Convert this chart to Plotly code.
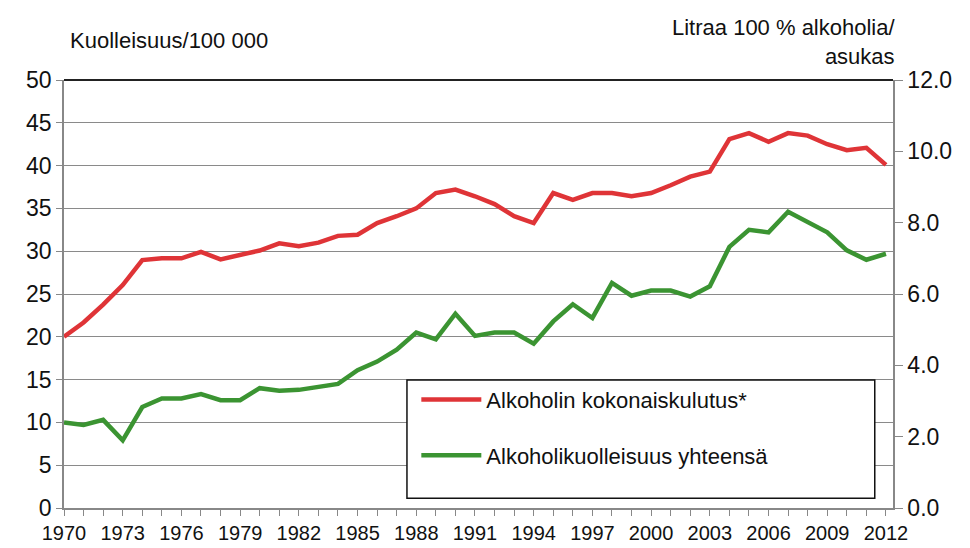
import plotly.graph_objects as go

years = list(range(1970, 2013))

# Alkoholin kokonaiskulutus, litraa 100 % alkoholia / asukas (right axis)
consumption = [4.8, 5.2, 5.7, 6.25, 6.95, 7.0, 7.0, 7.18, 6.97, 7.09,
               7.22, 7.42, 7.34, 7.44, 7.63, 7.66, 7.99, 8.18, 8.4, 8.83,
               8.93, 8.74, 8.52, 8.18, 7.99, 8.83, 8.64, 8.83, 8.83, 8.74,
               8.83, 9.05, 9.29, 9.43, 10.34, 10.51, 10.27, 10.51, 10.44, 10.2,
               10.03, 10.1, 9.62]

# Alkoholikuolleisuus yhteensä, /100 000 (left axis)
mortality = [10.0, 9.7, 10.3, 7.9, 11.8, 12.8, 12.8, 13.3, 12.6, 12.6,
             14.0, 13.7, 13.8, 14.1, 14.5, 16.1, 17.1, 18.5, 20.5, 19.7,
             22.7, 20.1, 20.5, 20.5, 19.2, 21.8, 23.8, 22.2, 26.3, 24.8,
             25.4, 25.4, 24.7, 25.9, 30.5, 32.5, 32.2, 34.6, 33.4, 32.2,
             30.1, 29.0, 29.7]

x_tick_years = list(range(1970, 2013, 3))
left_ticks = list(range(0, 51, 5))
right_ticks = [0, 2, 4, 6, 8, 10, 12]

name_red = "Alkoholin kokonaiskulutus*"
name_green = "Alkoholikuolleisuus yhteensä"

RED = "#DF3437"
GREEN = "#3B9432"
FONT = "Liberation Sans, Arial, sans-serif"
TXT = "#111111"

fig = go.Figure()
fig.add_trace(go.Scatter(x=years, y=consumption, name=name_red, yaxis="y2",
                         mode="lines", line=dict(color=RED, width=4.5),
                         legendgroup="a"))
fig.add_trace(go.Scatter(x=years, y=mortality, name=name_green, yaxis="y",
                         mode="lines", line=dict(color=GREEN, width=4.5),
                         legendgroup="b"))

fig.update_layout(
    width=970, height=548,
    margin=dict(l=64, r=77, t=80, b=40),
    paper_bgcolor="white", plot_bgcolor="white",
    font=dict(family=FONT, color=TXT),
    showlegend=True,
    legend=dict(x=0.425, y=0.302, xanchor="left", yanchor="top",
                font=dict(size=22, family=FONT, color=TXT),
                bgcolor="rgba(0,0,0,0)", borderwidth=0,
                itemwidth=60, tracegroupgap=24,
                traceorder="grouped"),
    xaxis=dict(range=[1970, 2012.36], tickmode="array", tickvals=x_tick_years,
               ticktext=[str(y) for y in x_tick_years],
               ticks="outside", ticklen=6, tickcolor="#888888",
               minor=dict(dtick=1, tick0=1970, ticks="outside", ticklen=6, tickcolor="#888888"),
               showline=True, linecolor="#888888", linewidth=1.5,
               showgrid=False, zeroline=False, automargin=False,
               tickfont=dict(size=20, family=FONT, color=TXT)),
    yaxis=dict(range=[0, 50], tickmode="array", tickvals=left_ticks,
               ticks="outside", ticklen=6, tickcolor="#888888",
               showline=True, linecolor="#888888", linewidth=1.5,
               showgrid=True, gridcolor="#8a8a8a", gridwidth=1.2,
               zeroline=False, automargin=False,
               tickfont=dict(size=23, family=FONT, color=TXT)),
    yaxis2=dict(range=[0, 12], overlaying="y", side="right", tickmode="array",
                tickvals=right_ticks, tickformat=".1f",
                ticks="outside", ticklen=8, tickcolor="#888888",
                showline=True, linecolor="#888888", linewidth=1.5,
                showgrid=False, zeroline=False, automargin=False,
                tickfont=dict(size=23, family=FONT, color=TXT)),
)

# top border of plot area
fig.add_shape(type="line", xref="paper", yref="paper", x0=0, x1=1, y0=1, y1=1,
              line=dict(color="#222222", width=2))
# legend frame (white box over gridlines)
fig.add_shape(type="rect", xref="paper", yref="paper", layer="above",
              x0=0.4137, x1=0.978, y0=0.023, y1=0.299,
              line=dict(color="#111111", width=1.5), fillcolor="white")

fig.add_annotation(text="Kuolleisuus/100 000", xref="paper", yref="paper",
                   x=0.005, y=1.093, xanchor="left", yanchor="middle",
                   showarrow=False, font=dict(size=22, family=FONT, color=TXT))
fig.add_annotation(text="Litraa 100 % alkoholia/<br>asukas", xref="paper", yref="paper",
                   x=1.005, y=1.089, xanchor="right", yanchor="middle", align="right",
                   showarrow=False, font=dict(size=22, family=FONT, color=TXT))

fig.write_html("out.html", config={"displayModeBar": False},
               post_script="document.body.style.margin='0';document.body.style.overflow='hidden';")
